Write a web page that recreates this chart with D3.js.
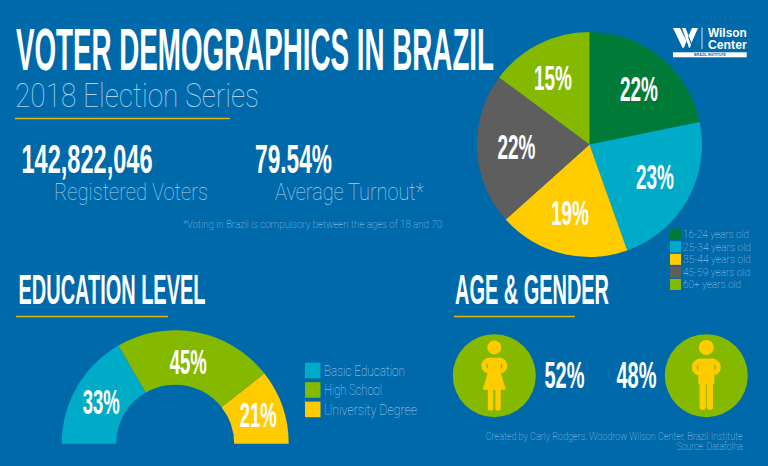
<!DOCTYPE html>
<html>
<head>
<meta charset="utf-8">
<script src="https://cdn.jsdelivr.net/npm/d3@7.9.0/dist/d3.min.js"></script>
<style>
html,body{margin:0;padding:0;background:#0069aa;}
svg{display:block;}
</style>
</head>
<body>
<svg id="chart"></svg>
<script>
const width = 768, height = 466;
const svg = d3.select("#chart").attr("width", width).attr("height", height);

const BLUE = "#0069aa", DGREEN = "#007a37", CYAN = "#00abc8", YEL = "#ffcc00", GREY = "#5e5e5e", LIME = "#84b900", RULE = "#e2b815";
const HEAD = "'Liberation Sans Narrow','Liberation Sans',sans-serif";
const THIN = "Roboto,sans-serif";
const LIGHT = "#a9d3ee";

svg.append("rect").attr("width", width).attr("height", height).attr("fill", BLUE);

// lx, ly = where the percent label sits, from the centre of the chart
const ageData = [
    {label: "16-24 years old", value: 22, color: DGREEN, lx: 49.5, ly: -55.5, tw: 66},
    {label: "25-34 years old", value: 23, color: CYAN, lx: 65.5, ly: 32.5, tw: 68},
    {label: "35-44 years old", value: 19, color: YEL, lx: -19.5, ly: 68.5, tw: 68},
    {label: "45-59 years old", value: 22, color: GREY, lx: -73, ly: 2.5, tw: 67},
    {label: "60+ years old", value: 15, color: LIME, lx: -36.5, ly: -66.5, tw: 58}
];
const eduData = [
    {label: "Basic Education", value: 33, color: CYAN, lx: -74, ly: -42, tw: 81},
    {label: "High School", value: 45, color: LIME, lx: 13, ly: -82, tw: 58},
    {label: "University Degree", value: 21, color: YEL, lx: 83, ly: -28.7, tw: 93}
];

// condensed headline text, squeezed to the measured width
function head(x, y, txt, size, len, anchor) {
    return svg.append("text").attr("x", x).attr("y", y)
        .attr("font-family", HEAD).attr("font-weight", 700).attr("font-size", size)
        .attr("fill", "#fff").attr("text-anchor", anchor || "start")
        .attr("textLength", len).attr("lengthAdjust", "spacingAndGlyphs")
        .text(txt);
}
function thin(x, y, txt, size, len, anchor, col) {
    return svg.append("text").attr("x", x).attr("y", y)
        .attr("font-family", THIN).attr("font-weight", 100).attr("font-size", size)
        .attr("fill", col || LIGHT).attr("text-anchor", anchor || "start")
        .attr("textLength", len).attr("lengthAdjust", "spacingAndGlyphs")
        .text(txt);
}
function rule(x1, x2, y) {
    svg.append("line").attr("x1", x1).attr("x2", x2).attr("y1", y).attr("y2", y)
        .attr("stroke", RULE).attr("stroke-width", 1.3);
}
function pct(g, d, tw) {
    g.append("text").attr("x", d.lx).attr("y", d.ly + 12)
        .attr("text-anchor", "middle").attr("font-family", HEAD).attr("font-weight", 700).attr("font-size", 35)
        .attr("fill", "#fff").attr("textLength", tw).attr("lengthAdjust", "spacingAndGlyphs")
        .text(d.value + "%");
}

// titles
head(16, 69.5, "VOTER DEMOGRAPHICS IN BRAZIL", 59, 478);
thin(15, 106.7, "2018 Election Series", 33, 244);
rule(15, 230, 118.5);

head(21.5, 173.3, "142,822,046", 41, 131);
thin(54, 199.5, "Registered Voters", 23, 154);
head(255, 173, "79.54%", 41, 77);
thin(275, 199.5, "Average Turnout*", 23, 149);
thin(183, 227.7, "*Voting in Brazil is compulsory between the ages of 18 and 70", 11.5, 259);

head(18.5, 304, "EDUCATION LEVEL", 42, 187);
rule(16, 168, 316.5);
head(455, 304, "AGE & GENDER", 42, 154);
rule(454, 575, 316.5);

// age pie
const pie = d3.pie().sort(null).value(d => d.value);
const arc = d3.arc().innerRadius(0).outerRadius(112.5);
const gPie = svg.append("g").attr("transform", "translate(589.5,144.5)");
gPie.selectAll("path").data(pie(ageData)).enter().append("path")
    .attr("d", arc).attr("fill", d => d.data.color);
ageData.forEach(d => pct(gPie, d, 38));

// age legend
const yAge = d3.scaleBand().domain(ageData.map(d => d.label)).range([228.7, 290]).paddingInner(0.12);
ageData.forEach(d => {
    svg.append("rect").attr("x", 670).attr("y", yAge(d.label)).attr("width", 11).attr("height", yAge.bandwidth()).attr("fill", d.color);
    thin(683, yAge(d.label) + 9.5, d.label, 11.7, d.tw);
});

// education half donut
const half = d3.pie().sort(null).value(d => d.value).startAngle(-Math.PI / 2).endAngle(Math.PI / 2);
const ring = d3.arc().innerRadius(59).outerRadius(113.5);
const gEdu = svg.append("g").attr("transform", "translate(175.2,443.7)");
gEdu.selectAll("path").data(half(eduData)).enter().append("path")
    .attr("d", ring).attr("fill", d => d.data.color);
eduData.forEach(d => pct(gEdu, d, 37));

// education legend
const yEdu = d3.scaleBand().domain(eduData.map(d => d.label)).range([362.7, 417.2]).paddingInner(0.2);
eduData.forEach(d => {
    svg.append("rect").attr("x", 305).attr("y", yEdu(d.label)).attr("width", 15.5).attr("height", yEdu.bandwidth()).attr("fill", d.color);
    thin(324, yEdu(d.label) + 13, d.label, 15, d.tw);
});

// gender
function person(cx, female) {
    const g = svg.append("g").attr("transform", `translate(${cx},375.7)`);
    g.append("circle").attr("r", 41.5).attr("fill", LIME);
    g.append("circle").attr("cy", -28.3).attr("r", female ? 7 : 7.5).attr("fill", YEL);
    // arms on hips
    g.append("path")
        .attr("d", female
            ? "M-4,-15.5 H-5 A5.5,5.5 0 0 0 -5,-4.5 M4,-15.5 H5 A5.5,5.5 0 0 1 5,-4.5"
            : "M-4,-14.5 H-6 A6,6 0 0 0 -6,-2.5 M4,-14.5 H6 A6,6 0 0 1 6,-2.5")
        .attr("fill", "none").attr("stroke", YEL).attr("stroke-width", 5).attr("stroke-linecap", "round");
    if (female) {
        g.append("path").attr("d", "M-6.5,-18 H6.5 V-3 L11.5,14 H-11.5 L-6.5,-3 Z").attr("fill", YEL);
        g.append("path").attr("d", "M-3.7,10 V32.3 M3.7,10 V32.3").attr("stroke", YEL).attr("stroke-width", 5.5).attr("stroke-linecap", "round");
    } else {
        g.append("path").attr("d", "M-8,-17 H8 V8 H-8 Z").attr("fill", YEL);
        g.append("path").attr("d", "M-3.6,4 V31 M3.6,4 V31").attr("stroke", YEL).attr("stroke-width", 6.3).attr("stroke-linecap", "round");
    }
}
person(494.3, true);
person(706.3, false);
head(544.5, 388, "52%", 36, 40);
head(616.5, 388, "48%", 36, 40);

// credit
thin(742.7, 440, "Created by Carly Rodgers, Woodrow Wilson Center, Brazil Institute", 10.5, 257, "end");
thin(742.7, 450, "Source: Datafolha", 10.5, 66, "end");

// logo
const logo = svg.append("g");
logo.append("path").attr("fill", "#fff")
    .attr("d", "M673,28 H680 L686.5,41 L684,47.7 H682.5 Z M682,28 H685.5 L691.5,43 L690,47.7 H689 Z M698,28 H692 L688,37 L690.8,44.5 Z");
logo.append("line").attr("x1", 702).attr("x2", 702).attr("y1", 27.5).attr("y2", 49).attr("stroke", "#cfe3f0").attr("stroke-width", 1);
logo.append("text").attr("x", 708).attr("y", 37).attr("font-family", "'Liberation Sans',sans-serif").attr("font-weight", 700).attr("font-size", 13)
    .attr("textLength", 38.7).attr("lengthAdjust", "spacingAndGlyphs").attr("fill", "#fff").text("Wilson");
logo.append("text").attr("x", 708).attr("y", 48.7).attr("font-family", "'Liberation Sans',sans-serif").attr("font-weight", 700).attr("font-size", 13)
    .attr("textLength", 38.7).attr("lengthAdjust", "spacingAndGlyphs").attr("fill", "#fff").text("Center");
logo.append("rect").attr("x", 673).attr("y", 52.3).attr("width", 73.7).attr("height", 5).attr("fill", "#fff");
logo.append("text").attr("x", 710).attr("y", 56.3).attr("text-anchor", "middle").attr("font-family", "'Liberation Sans',sans-serif").attr("font-weight", 700).attr("font-size", 3.5).attr("fill", BLUE).text("BRAZIL INSTITUTE");
</script>
</body>
</html>
